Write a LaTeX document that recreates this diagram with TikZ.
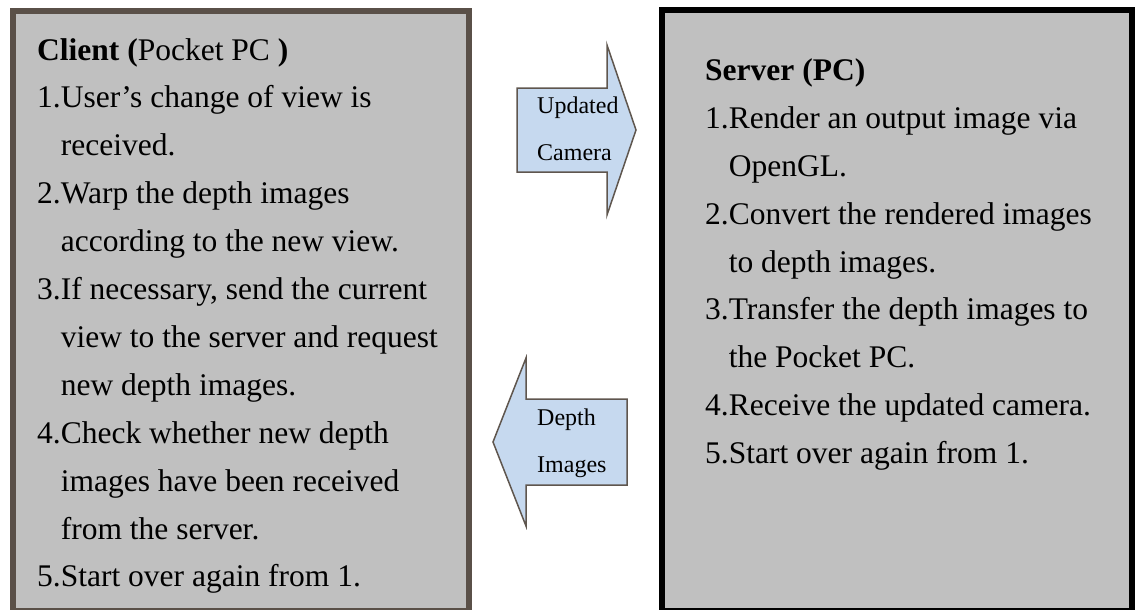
\documentclass[tikz,border=0pt]{standalone}
\usepackage{fontspec}
\setmainfont{Liberation Serif}
\definecolor{boxfill}{HTML}{C0C0C0}
\definecolor{clientborder}{HTML}{5A5048}
\definecolor{arrowfill}{HTML}{C6D9EF}
\definecolor{arrowdraw}{HTML}{5F564E}
\newcommand\contind{\hphantom{1.}}
\begin{document}
\begin{tikzpicture}[x=1pt,y=-1pt,
  txt/.style={anchor=base west, inner sep=0pt, font=\fontsize{31.5}{38}\selectfont},
  lbl/.style={anchor=base west, inner sep=0pt, font=\fontsize{24}{29}\selectfont},
  panel/.style={fill=boxfill, line width=6pt},
  blockarrow/.style={fill=arrowfill, draw=arrowdraw, line width=1.5pt, line join=miter}]
\useasboundingbox (0,0) rectangle (1135,610);
% panels
\draw[panel, draw=clientborder] (13,11) rectangle (469,611);
\draw[panel, draw=black] (662,10.5) rectangle (1132,611);
% client text
\foreach \t [count=\i from 0] in {%
  {\textbf{Client (}Pocket PC \textbf{)}},
  {1.User’s change of view is},
  {\contind received.},
  {2.Warp the depth images},
  {\contind according to the new view.},
  {3.If necessary, send the current},
  {\contind view to the server and request},
  {\contind new depth images.},
  {4.Check whether new depth},
  {\contind images have been received},
  {\contind from the server.},
  {5.Start over again from 1.}}
  \node[txt] (cl\i) at (37,60+47.9*\i) {\t};
% server text
\foreach \t [count=\i from 0] in {%
  {\textbf{Server (PC)}},
  {1.Render an output image via},
  {\contind OpenGL.},
  {2.Convert the rendered images},
  {\contind to depth images.},
  {3.Transfer the depth images to},
  {\contind the Pocket PC.},
  {4.Receive the updated camera.},
  {5.Start over again from 1.}}
  \node[txt] (sv\i) at (705,81+47.75*\i) {\t};
% arrows
\draw[blockarrow] (517,88) -- (607,88) -- (607,45) -- (636,130) -- (607,215) -- (607,172) -- (517,172) -- cycle;
\node[lbl] (upd1) at (537,113) {Updated};
\node[lbl] (upd2) at (537,160) {Camera};
\draw[blockarrow] (627,399) -- (526,399) -- (526,358) -- (493,442) -- (526,526) -- (526,485) -- (627,485) -- cycle;
\node[lbl] (dep1) at (537,425) {Depth};
\node[lbl] (dep2) at (537,472) {Images};
\end{tikzpicture}
\end{document}
